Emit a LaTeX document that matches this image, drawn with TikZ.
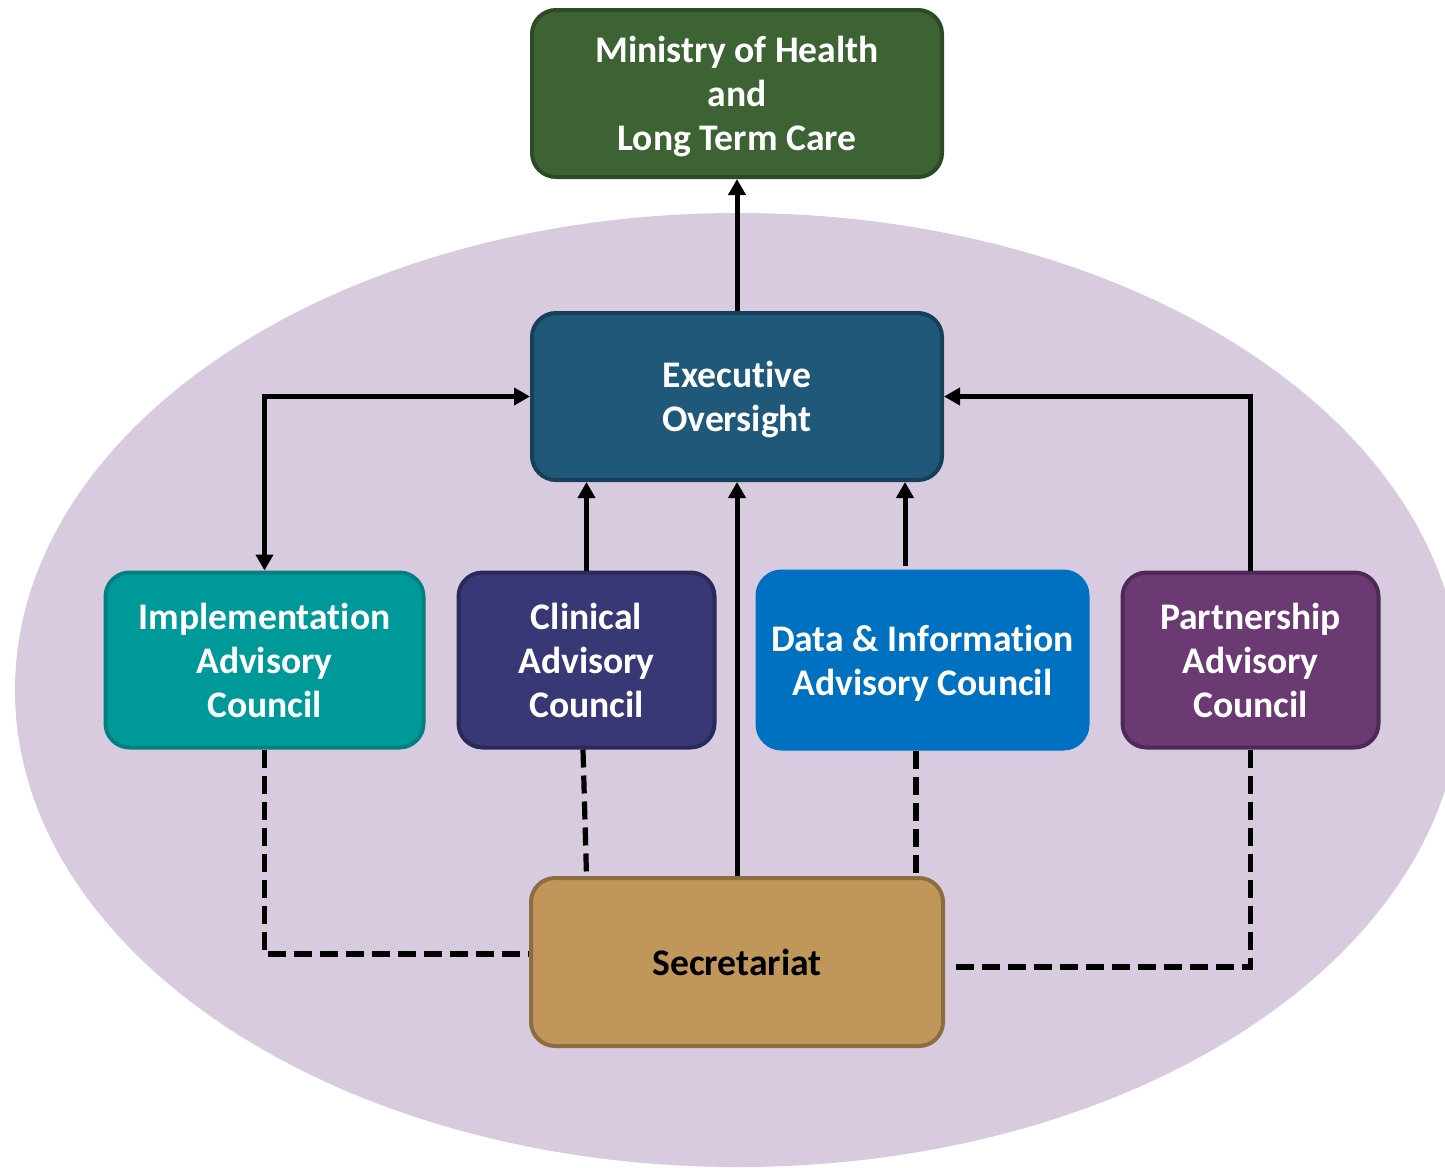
\documentclass[tikz,border=0pt]{standalone}
\usepackage{fontspec}
\setmainfont{Carlito}[Ligatures=NoCommon]
\usetikzlibrary{arrows.meta,calc}
\definecolor{ellfill}{HTML}{D8CBDF}
\definecolor{minfill}{HTML}{3D6334}
\definecolor{mindraw}{HTML}{2B4A25}
\definecolor{exefill}{HTML}{1F5878}
\definecolor{exedraw}{HTML}{163F58}
\definecolor{impfill}{HTML}{009999}
\definecolor{impdraw}{HTML}{00817F}
\definecolor{clifill}{HTML}{383877}
\definecolor{clidraw}{HTML}{29295A}
\definecolor{datfill}{HTML}{0070C0}
\definecolor{parfill}{HTML}{6B3A73}
\definecolor{pardraw}{HTML}{4E2956}
\definecolor{secfill}{HTML}{C0965A}
\definecolor{secdraw}{HTML}{8C6D40}
\begin{document}
\begin{tikzpicture}[x=0.5pt,y=-0.5pt,
  box/.style={draw, rounded corners=12pt, line width=2pt, align=center, inner sep=0pt,
    text depth=0pt, text=white, font=\fontsize{18.8}{22}\selectfont\bfseries},
  arr/.style={line width=2.5pt, -{Triangle[length=8pt,width=8.5pt]}},
  biarr/.style={line width=2.5pt, {Triangle[length=8pt,width=8.5pt]}-{Triangle[length=8pt,width=8.5pt]}},
  dsh/.style={line width=2.6pt, dash pattern=on 9pt off 4pt}]
\useasboundingbox (0,0) rectangle (1445,1167);
\clip (0,0) rectangle (1445,1167);
\fill[ellfill] (738,690) ellipse [x radius=361.5pt, y radius=238.5pt];

\node[box, fill=minfill, draw=mindraw, minimum width=205pt, minimum height=83.5pt] (min) at (737,93.5)
  {Ministry of Health\\and\\Long Term Care};
\node[box, fill=exefill, draw=exedraw, minimum width=205pt, minimum height=83.5pt] (exec) at (737,396.5)
  {Executive\\Oversight};
\node[box, fill=impfill, draw=impdraw, minimum width=159pt, minimum height=87.5pt] (impl) at (264.5,660)
  {Implementation\\Advisory\\Council};
\node[box, fill=clifill, draw=clidraw, minimum width=128pt, minimum height=87.5pt] (clin) at (586.5,660)
  {Clinical\\Advisory\\Council};
\node[box, fill=datfill, draw=datfill, minimum width=165pt, minimum height=88.5pt] (data) at (922.5,660)
  {Data \& Information\\Advisory Council};
\node[box, fill=parfill, draw=pardraw, minimum width=128pt, minimum height=87.5pt] (part) at (1250.5,660)
  {Partnership\\Advisory\\Council};
\node[box, fill=secfill, draw=secdraw, text=black, minimum width=206pt, minimum height=84pt] (sec) at (737,962)
  {Secretariat};

% solid connectors
\draw[arr] (exec.north) -- (min.south);
\draw[biarr] (impl.north) |- (exec.west);
\draw[arr] (part.north) |- (exec.east);
\draw[arr] (clin.north) -- (clin.north |- exec.south);
\draw[arr] (sec.north) -- (exec.south);
\coordinate (dtop) at ($(data.north)+(-17.5,-4)$);
\draw[arr] (dtop) -- (dtop |- exec.south);

% dashed connectors
\coordinate (iend) at ($(sec.west)+(0,-8)$);
\draw[dsh] (impl.south) |- (iend);
\coordinate (cbot) at ($(clin.south)+(-3.5,0)$);
\draw[dsh] (cbot) -- (clin.south |- sec.north);
\coordinate (dbot) at ($(data.south)+(-6.5,0)$);
\draw[dsh] (dbot) -- (dbot |- sec.north);
\coordinate (pend) at ($(sec.east)+(8,5)$);
\draw[dsh] (part.south) |- (pend);
\end{tikzpicture}
\end{document}
